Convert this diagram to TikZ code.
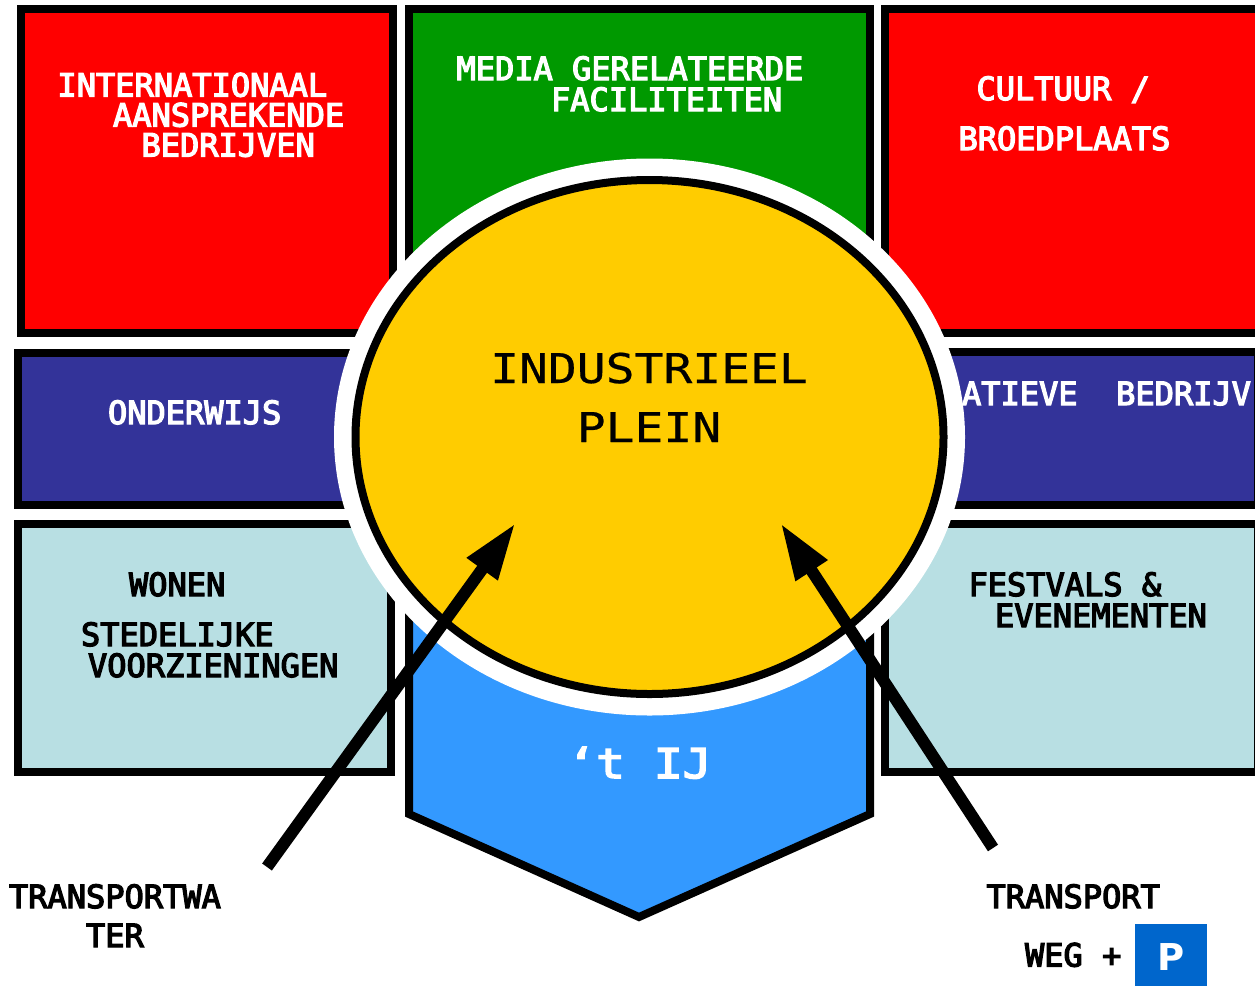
\documentclass[tikz,border=0pt]{standalone}
\usepackage{fontspec}
\setmainfont{DejaVu Sans Mono}
\newfontfamily\labfont[FakeBold=4]{DejaVu Sans Mono}
\newfontfamily\wideplain[FakeStretch=1.17,FakeBold=0.5]{DejaVu Sans Mono}
\newfontfamily\widebold[FakeStretch=1.17,FakeBold=4]{DejaVu Sans Mono}
\newfontfamily\plate{DejaVu Sans}
\usetikzlibrary{arrows.meta}
\definecolor{cRed}{HTML}{FF0000}
\definecolor{cGreen}{HTML}{009900}
\definecolor{cNavy}{HTML}{333399}
\definecolor{cPale}{HTML}{B8DFE3}
\definecolor{cSky}{HTML}{3399FF}
\definecolor{cGold}{HTML}{FFCC00}
\definecolor{cPlate}{HTML}{0066CC}
\tikzset{
  x=1pt,y=-1pt,
  panel/.style={draw=black,line width=8pt,miter limit=10},
  lab/.style={anchor=base west,inner sep=0pt,outer sep=0pt,font=\labfont\fontsize{32}{32}\selectfont},
  whitelab/.style={lab,text=white},
  blacklab/.style={lab,text=black},
  pleinlab/.style={anchor=base,inner sep=0pt,text=black,font=\wideplain\fontsize{41}{41}\selectfont},
  bigarrow/.style={draw=black,line width=12pt,-{Triangle[length=57pt,width=35pt]}},
}
\begin{document}
\begin{tikzpicture}
\useasboundingbox (0,0) rectangle (1255,986);
\clip (0,0) rectangle (1255,986);
\fill[white] (0,0) rectangle (1255,986);
% panels
\path[panel,fill=cRed] (21,8.5) rectangle (393,333);
\path[panel,fill=cGreen] (409,9) rectangle (870,400);
\path[panel,fill=cRed] (885,9) rectangle (1262,333);
\path[panel,fill=cNavy] (18,353) rectangle (420,505);
\path[panel,fill=cNavy] (900,352) rectangle (1258,505);
\path[panel,fill=cPale] (18,524) rectangle (391,772);
\path[panel,fill=cPale] (885,524) rectangle (1258,772);
\path[panel,fill=cSky] (409,560) -- (870,560) -- (870,814) -- (639,917) -- (409,814) -- cycle;
% panel label partly under the ring
\node[whitelab] (t12) at (962,405) {ATIEVE\ \ BEDRIJV};
% plaza
\fill[white] (649.5,437) ellipse [x radius=315.5,y radius=278.5];
\path[draw=black,line width=8pt,fill=cGold] (649.5,437) ellipse [x radius=294,y radius=257];
% labels
\node[whitelab] (t1) at (57.5,96.5) {INTERNATIONAAL};
\node[whitelab] (t2) at (113,126.5) {AANSPREKENDE};
\node[whitelab] (t3) at (141.5,156.5) {BEDRIJVEN};
\node[whitelab] (t4) at (456.5,80) {MEDIA GERELATEERDE};
\node[whitelab] (t5) at (551,111) {FACILITEITEN};
\node[whitelab] (t6) at (976.5,100) {CULTUUR /};
\node[whitelab] (t7) at (958.5,150) {BROEDPLAATS};
\node[whitelab] (t8) at (108,424) {ONDERWIJS};
\node[blacklab] (t9) at (129,596) {WONEN};
\node[blacklab] (t10) at (81,646) {STEDELIJKE};
\node[blacklab] (t11) at (88,677) {VOORZIENINGEN};
\node[blacklab] (t13) at (968.5,596) {FESTVALS \&};
\node[blacklab] (t14) at (995,627) {EVENEMENTEN};
\node[blacklab] (t15) at (9,908) {TRANSPORTWA};
\node[blacklab] (t16) at (86,947) {TER};
\node[blacklab] (t17) at (986.5,908) {TRANSPORT};
\node[blacklab] (t18) at (1025,966.5) {WEG +};
\node[pleinlab] (plein1) at (649,383) {INDUSTRIEEL};
\node[pleinlab] (plein2) at (649,442) {PLEIN};
\node[anchor=base west,inner sep=0pt,text=white,font=\widebold\fontsize{41}{41}\selectfont] (ij) at (567,778) {‘t IJ};
% plate
\node[fill=cPlate,minimum width=72pt,minimum height=62pt,inner sep=0pt] (park) at (1171,955) {};
\node[anchor=base,inner sep=0pt,text=white,font=\plate\fontsize{37}{37}\selectfont\bfseries] (parkP) at (1171.5,970) {P};
% arrows
\coordinate (w0) at (267,867);
\coordinate (w1) at (515.5,523);
\coordinate (r0) at (993,848);
\coordinate (r1) at (780.5,523);
\draw[bigarrow] (w0) -- (w1);
\draw[bigarrow] (r0) -- (r1);
\end{tikzpicture}
\end{document}
